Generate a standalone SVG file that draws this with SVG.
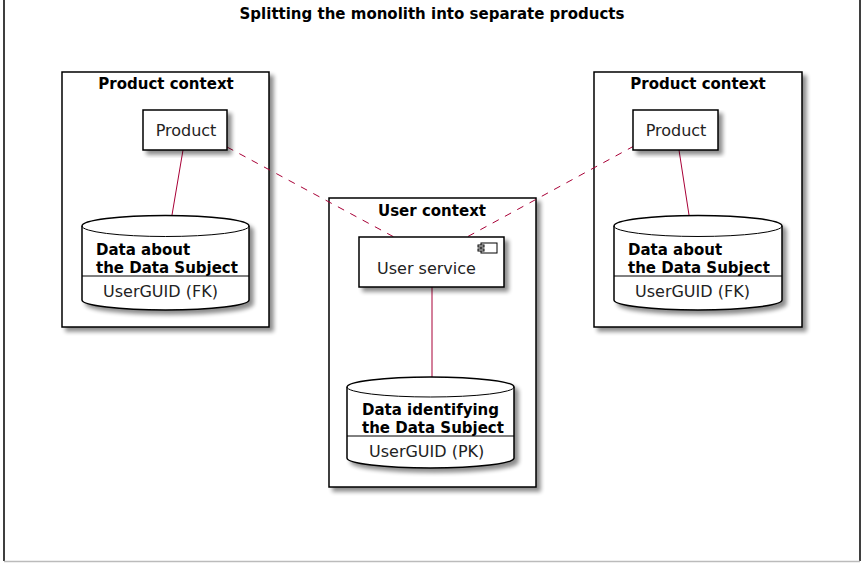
<svg xmlns="http://www.w3.org/2000/svg" width="865" height="563" viewBox="0 0 865 563">
<style>
.frame{fill:#fff;stroke:#000;stroke-width:1.5}
.box{fill:#fff;stroke:#000;stroke-width:1.5}
.sep{fill:none;stroke:#000;stroke-width:1}
.bold{font-family:"DejaVu Sans",sans-serif;font-weight:bold;font-size:15px;fill:#000}
.title{font-family:"DejaVu Sans",sans-serif;font-weight:bold;font-size:15px;fill:#000}
.reg{font-family:"DejaVu Sans",sans-serif;font-size:16px;fill:#222}
.link{fill:none;stroke:#A80036;stroke-width:1}
.dash{stroke-dasharray:7,7}
</style>
<defs>
<filter id="sh" x="-10%" y="-10%" width="130%" height="130%">
<feGaussianBlur in="SourceAlpha" stdDeviation="2"/>
<feOffset dx="4" dy="4" result="b"/>
<feComponentTransfer><feFuncA type="linear" slope="0.45"/></feComponentTransfer>
<feMerge><feMergeNode/><feMergeNode in="SourceGraphic"/></feMerge>
</filter>
</defs>
<rect width="865" height="563" fill="#fff"/>
<path d="M4,-2 L4,561 M860,-2 L860,561" stroke="#000" stroke-width="1.5" fill="none"/>
<path d="M4,561.5 L860,561.5" stroke="#bbb" stroke-width="1.5"/>
<text class="title" x="432" y="19" text-anchor="middle">Splitting the monolith into separate products</text>

<g id="product-context-left">
<rect class="frame" x="62" y="72" width="207" height="255" filter="url(#sh)"/>
<text class="bold" x="166" y="89" text-anchor="middle">Product context</text>
</g>
<g id="user-context">
<rect class="frame" x="329" y="198" width="207" height="289" filter="url(#sh)"/>
<text class="bold" x="432" y="216" text-anchor="middle">User context</text>
</g>
<g id="product-context-right">
<rect class="frame" x="594" y="72" width="208" height="255" filter="url(#sh)"/>
<text class="bold" x="698" y="89" text-anchor="middle">Product context</text>
</g>

<g id="connectors">
<line class="link" x1="183" y1="150" x2="172" y2="215"/>
<line class="link" x1="679" y1="150" x2="689" y2="215"/>
<line class="link dash" x1="227" y1="147" x2="394" y2="237"/>
<line class="link dash" x1="634" y1="146" x2="467" y2="237"/>
<line class="link" x1="432" y1="287" x2="432" y2="377"/>
</g>

<g id="product-left">
<rect class="box" x="143" y="110" width="84" height="40" filter="url(#sh)"/>
<text class="reg" x="186" y="136" text-anchor="middle">Product</text>
</g>
<g id="db-left">
<path class="box" d="M82,226 A83.5,10.5 0 0 1 249,226 L249,300 A83.5,10 0 0 1 82,300 Z" filter="url(#sh)"/>
<path class="sep" d="M82,226 A83.5,10.5 0 0 0 249,226"/>
<line class="sep" x1="82" y1="276" x2="249" y2="276"/>
<text class="bold" x="96" y="255">Data about</text>
<text class="bold" x="96" y="273">the Data Subject</text>
<text class="reg" x="103" y="297">UserGUID (FK)</text>
</g>

<g id="product-right">
<rect class="box" x="633" y="110" width="85" height="40" filter="url(#sh)"/>
<text class="reg" x="676" y="136" text-anchor="middle">Product</text>
</g>
<g id="db-right">
<path class="box" d="M614,226 A84,10.5 0 0 1 782,226 L782,300 A84,10 0 0 1 614,300 Z" filter="url(#sh)"/>
<path class="sep" d="M614,226 A84,10.5 0 0 0 782,226"/>
<line class="sep" x1="614" y1="276" x2="782" y2="276"/>
<text class="bold" x="628" y="255">Data about</text>
<text class="bold" x="628" y="273">the Data Subject</text>
<text class="reg" x="635" y="297">UserGUID (FK)</text>
</g>

<g id="user-service">
<rect class="box" x="359" y="237" width="145" height="50" filter="url(#sh)"/>
<rect x="481" y="243" width="16" height="10" fill="#fff" stroke="#000" stroke-width="1"/>
<rect x="478" y="245" width="6" height="2" fill="#fff" stroke="#000" stroke-width="1"/>
<rect x="478" y="249" width="6" height="2" fill="#fff" stroke="#000" stroke-width="1"/>
<text class="reg" x="377" y="274">User service</text>
</g>
<g id="db-user">
<path class="box" d="M347,387 A83.5,10 0 0 1 514,387 L514,458 A83.5,10 0 0 1 347,458 Z" filter="url(#sh)"/>
<path class="sep" d="M347,387 A83.5,10 0 0 0 514,387"/>
<line class="sep" x1="347" y1="436" x2="514" y2="436"/>
<text class="bold" x="362" y="415">Data identifying</text>
<text class="bold" x="362" y="433">the Data Subject</text>
<text class="reg" x="369" y="457">UserGUID (PK)</text>
</g>
</svg>
